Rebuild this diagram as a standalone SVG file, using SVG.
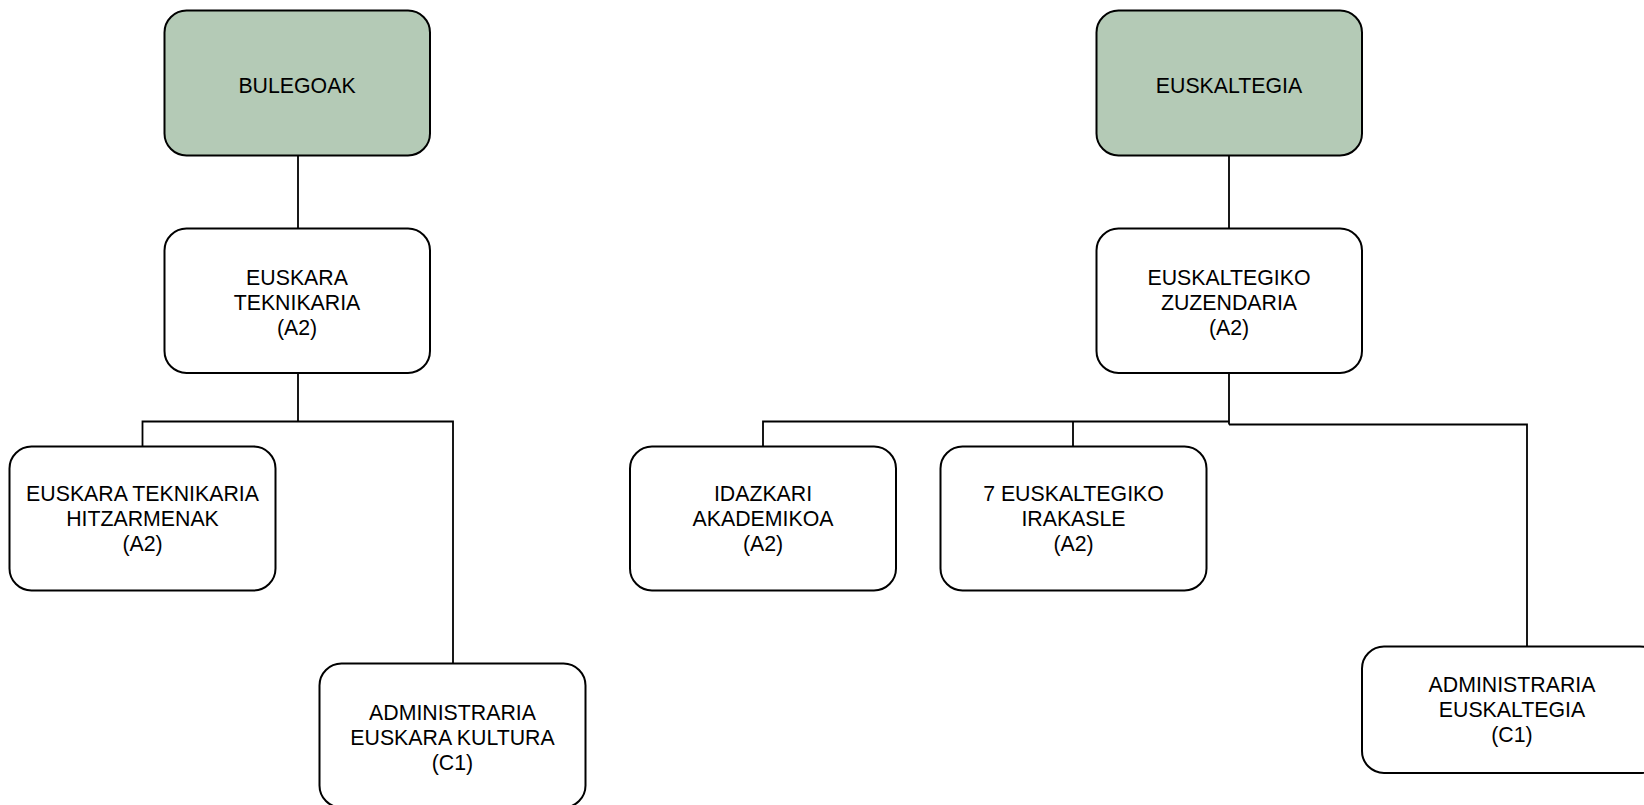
<svg xmlns="http://www.w3.org/2000/svg" width="1644" height="805" viewBox="0 0 1644 805">
<style>
.box{fill:#ffffff;stroke:#000;stroke-width:2}
.top{fill:#b4cab6;stroke:#000;stroke-width:2}
.lbl{font-family:"Liberation Sans",Arial,sans-serif;font-size:21.3px;fill:#000;text-anchor:middle}
.con{fill:none;stroke:#000;stroke-width:1.8}
</style>
<rect width="1644" height="805" fill="#ffffff"/>
<g id="connectors">
<path class="con" d="M298 155.5V228.5"/>
<path class="con" d="M298 373V421.5M142.5 446.5V421.5H453V663.5"/>
<path class="con" d="M1229 155.5V228.5"/>
<path class="con" d="M1229 373V424.5M763 446.5V421.5H1229M1073 421.5V446.5"/>
<path class="con" d="M1229 424.5H1527V646.5"/>
</g>
<g id="bulegoak">
<rect class="top" x="164.5" y="10.5" width="265.5" height="145" rx="22"/>
<text class="lbl" x="297" y="92.5">BULEGOAK</text>
</g>
<g id="euskara-teknikaria">
<rect class="box" x="164.5" y="228.5" width="265.5" height="144.5" rx="22"/>
<text class="lbl" x="297" y="284.5">EUSKARA</text>
<text class="lbl" x="297" y="309.5">TEKNIKARIA</text>
<text class="lbl" x="297" y="334.5">(A2)</text>
</g>
<g id="euskara-teknikaria-hitzarmenak">
<rect class="box" x="9.5" y="446.5" width="266" height="144" rx="22"/>
<text class="lbl" x="142.5" y="501">EUSKARA TEKNIKARIA</text>
<text class="lbl" x="142.5" y="526">HITZARMENAK</text>
<text class="lbl" x="142.5" y="551">(A2)</text>
</g>
<g id="administraria-euskara-kultura">
<rect class="box" x="319.5" y="663.5" width="266" height="144" rx="22"/>
<text class="lbl" x="452.5" y="720">ADMINISTRARIA</text>
<text class="lbl" x="452.5" y="745">EUSKARA KULTURA</text>
<text class="lbl" x="452.5" y="770">(C1)</text>
</g>
<g id="euskaltegia">
<rect class="top" x="1096.5" y="10.5" width="265.5" height="145" rx="22"/>
<text class="lbl" x="1229" y="92.5">EUSKALTEGIA</text>
</g>
<g id="euskaltegiko-zuzendaria">
<rect class="box" x="1096.5" y="228.5" width="265.5" height="144.5" rx="22"/>
<text class="lbl" x="1229" y="284.5">EUSKALTEGIKO</text>
<text class="lbl" x="1229" y="309.5">ZUZENDARIA</text>
<text class="lbl" x="1229" y="334.5">(A2)</text>
</g>
<g id="idazkari-akademikoa">
<rect class="box" x="630" y="446.5" width="266" height="144" rx="22"/>
<text class="lbl" x="763" y="501">IDAZKARI</text>
<text class="lbl" x="763" y="526">AKADEMIKOA</text>
<text class="lbl" x="763" y="551">(A2)</text>
</g>
<g id="euskaltegiko-irakasle">
<rect class="box" x="940.5" y="446.5" width="266" height="144" rx="22"/>
<text class="lbl" x="1073.5" y="501">7 EUSKALTEGIKO</text>
<text class="lbl" x="1073.5" y="526">IRAKASLE</text>
<text class="lbl" x="1073.5" y="551">(A2)</text>
</g>
<g id="administraria-euskaltegia">
<rect class="box" x="1362" y="646.5" width="300" height="126.5" rx="22"/>
<text class="lbl" x="1512" y="692">ADMINISTRARIA</text>
<text class="lbl" x="1512" y="717">EUSKALTEGIA</text>
<text class="lbl" x="1512" y="742">(C1)</text>
</g>
</svg>
